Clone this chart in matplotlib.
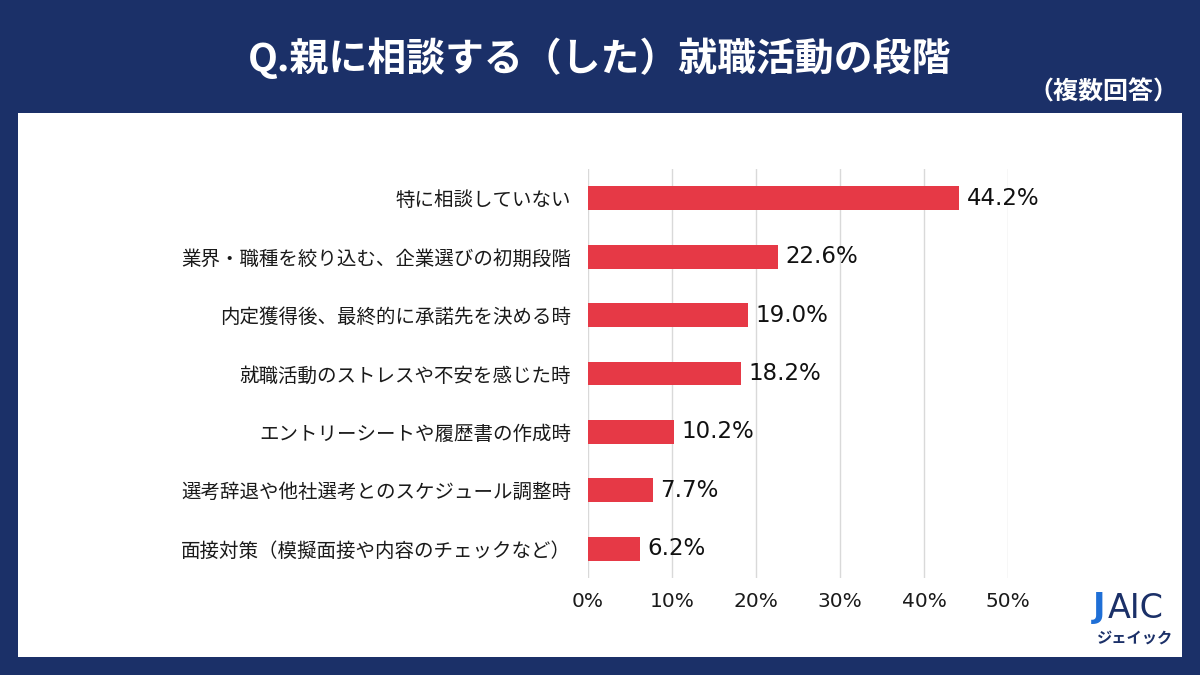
import matplotlib.pyplot as plt
from matplotlib.patches import Rectangle

plt.rcParams['font.family'] = ['Noto Sans CJK JP', 'DejaVu Sans']

categories = [
    "特に相談していない",
    "業界・職種を絞り込む、企業選びの初期段階",
    "内定獲得後、最終的に承諾先を決める時",
    "就職活動のストレスや不安を感じた時",
    "エントリーシートや履歴書の作成時",
    "選考辞退や他社選考とのスケジュール調整時",
    "面接対策（模擬面接や内容のチェックなど）",
]
values = [44.2, 22.6, 19.0, 18.2, 10.2, 7.7, 6.2]
ticks = [0, 10, 20, 30, 40, 50]
tick_labels = ["0%", "10%", "20%", "30%", "40%", "50%"]

NAVY = "#1b3068"
RED = "#e63946"

W, H = 1200, 675
fig = plt.figure(figsize=(12, 6.75), dpi=100, facecolor=NAVY)

# white panel behind the chart
fig.patches.append(Rectangle((18 / W, 1 - 657 / H), (1182 - 18) / W, (657 - 113) / H,
                             transform=fig.transFigure, facecolor="white",
                             edgecolor="none", zorder=-5))

fig.text(0.5, 1 - 58 / H, "Q.親に相談する（した）就職活動の段階", color="white",
         fontsize=28, fontweight="bold", ha="center", va="center")
fig.text(1178 / W, 1 - 92 / H, "（複数回答）", color="white",
         fontsize=18, fontweight="bold", ha="right", va="center")

ax = fig.add_axes([588 / W, 1 - 578 / H, (1008 - 588) / W, (578 - 169) / H])
ax.set_facecolor("none")
y = list(range(len(categories)))
ax.barh(y, values, height=0.41, color=RED, zorder=3)
ax.set_xlim(0, 50)
ax.set_ylim(len(categories) - 0.5, -0.5)
ax.set_yticks(y)
ax.set_yticklabels(categories, fontsize=14, color="#1a1a1a")
ax.set_xticks(ticks)
ax.set_xticklabels(tick_labels, fontsize=14.5, color="#1a1a1a",
                   family=['DejaVu Sans'])
ax.tick_params(axis="both", length=0)
ax.tick_params(axis="y", pad=12)
ax.tick_params(axis="x", pad=10)
ax.grid(axis="x", color="#d9d9d9", linewidth=1, zorder=0)
for s in ax.spines.values():
    s.set_visible(False)

for yi, v in zip(y, values):
    ax.text(v + 0.9, yi, f"{v:.1f}%", va="center", ha="left", fontsize=16.5,
            color="#111111", family=['DejaVu Sans'])

# logo
fig.text(1093 / W, 1 - 608 / H, "J", color="#1f6fd6", fontsize=24,
         fontweight="bold", ha="left", va="center", family=['DejaVu Sans'])
fig.text(1108 / W, 1 - 608 / H, "AIC", color=NAVY, fontsize=24,
         ha="left", va="center", family=['DejaVu Sans'])
fig.text(1135 / W, 1 - 638 / H, "ジェイック", color=NAVY, fontsize=11,
         fontweight="bold", ha="center", va="center")

fig.savefig("out.png", dpi=100, facecolor=NAVY)
